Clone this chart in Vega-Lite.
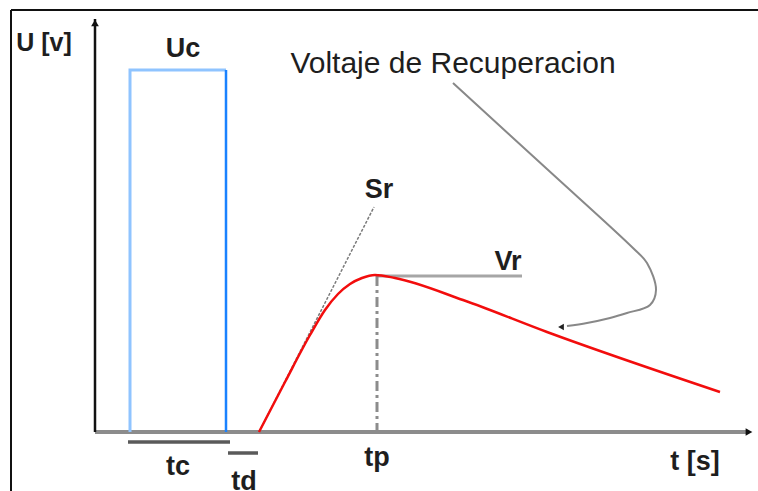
{
  "$schema": "https://vega.github.io/schema/vega-lite/v6.json",
  "width": 758,
  "height": 491,
  "autosize": {"type": "none"},
  "padding": 0,
  "background": "white",
  "config": {"view": {"stroke": null}, "text": {"font": "Liberation Sans"}},
  "datasets": {
    "frame": [
      {"side": "top", "k": 0, "t": -8.4, "U": 42.2},
      {"side": "top", "k": 1, "t": 66.3, "U": 42.2},
      {"side": "left", "k": 0, "t": -8.4, "U": 42.2},
      {"side": "left", "k": 1, "t": -8.4, "U": -5.9}
    ],
    "uAxis": [{"k": 0, "t": 0, "U": 0}, {"k": 1, "t": 0, "U": 41.3}],
    "tAxis": [{"k": 0, "t": 0, "U": 0}, {"k": 1, "t": 65.2, "U": 0}],
    "arrowUp": [{"t": 0, "U": 40.9}],
    "arrowRight": [{"t": 65.4, "U": 0}],
    "pulseLight": [
      {"k": 0, "t": 3.5, "U": 0},
      {"k": 1, "t": 3.5, "U": 36.2},
      {"k": 2, "t": 13.1, "U": 36.2}
    ],
    "pulseDark": [{"k": 0, "t": 13.1, "U": 36.2}, {"k": 1, "t": 13.1, "U": 0}],
    "intervals": [
      {"name": "tc", "k": 0, "t": 3.3, "U": -1.0},
      {"name": "tc", "k": 1, "t": 13.5, "U": -1.0},
      {"name": "td", "k": 0, "t": 13.3, "U": -2.1},
      {"name": "td", "k": 1, "t": 16.3, "U": -2.1}
    ],
    "tangent": [{"k": 0, "t": 16.4, "U": 0}, {"k": 1, "t": 27.9, "U": 22.5}],
    "peakLevel": [{"k": 0, "t": 28.2, "U": 15.6}, {"k": 1, "t": 42.7, "U": 15.6}],
    "peakTime": [{"k": 0, "t": 28.2, "U": 15.6}, {"k": 1, "t": 28.2, "U": 0}],
    "recovery": [
      {"t": 16.4, "U": 0},
      {"t": 19.0, "U": 5.0},
      {"t": 21.5, "U": 9.7},
      {"t": 23.0, "U": 12.2},
      {"t": 24.3, "U": 13.8},
      {"t": 25.5, "U": 14.8},
      {"t": 26.7, "U": 15.4},
      {"t": 28.0, "U": 15.7},
      {"t": 30.0, "U": 15.4},
      {"t": 36.8, "U": 13.2},
      {"t": 45.2, "U": 10.0},
      {"t": 62.5, "U": 4.0}
    ],
    "pointer": [
      {"k": 0, "t": 35.8, "U": 34.9},
      {"k": 1, "t": 45.2, "U": 26.3},
      {"k": 2, "t": 53.8, "U": 18.4},
      {"k": 3, "t": 55.2, "U": 16.9},
      {"k": 4, "t": 56.1, "U": 14.2},
      {"k": 5, "t": 55.5, "U": 12.7},
      {"k": 6, "t": 53.2, "U": 11.9},
      {"k": 7, "t": 51.5, "U": 11.4},
      {"k": 8, "t": 49.2, "U": 10.9},
      {"k": 9, "t": 47.2, "U": 10.6}
    ],
    "pointerHead": [{"t": 46.6, "U": 10.5}],
    "symbols": [
      {"label": "Uc", "t": 8.8, "U": 37.5},
      {"label": "Sr", "t": 28.4, "U": 23.4},
      {"label": "Vr", "t": 41.3, "U": 16.2},
      {"label": "tc", "t": 8.3, "U": -4.3},
      {"label": "td", "t": 14.9, "U": -5.75},
      {"label": "tp", "t": 28.2, "U": -3.4},
      {"label": "t [s]", "t": 60.0, "U": -3.8}
    ],
    "yTitle": [{"label": "U [v]", "t": -5.1, "U": 38.1}],
    "note": [{"label": "Voltaje de Recuperacion", "t": 35.8, "U": 35.9}]
  },
  "encoding": {
    "x": {"field": "t", "type": "quantitative", "axis": null,
          "scale": {"domain": [-9.5, 66.3], "nice": false, "zero": false}},
    "y": {"field": "U", "type": "quantitative", "axis": null,
          "scale": {"domain": [-5.9, 43.2], "nice": false, "zero": false}}
  },
  "layer": [
    {"data": {"name": "frame"},
     "mark": {"type": "line", "color": "#111111", "strokeWidth": 2},
     "encoding": {"detail": {"field": "side"}, "order": {"field": "k"}}},
    {"data": {"name": "tAxis"},
     "mark": {"type": "line", "color": "#8c8c8c", "strokeWidth": 4},
     "encoding": {"order": {"field": "k"}}},
    {"data": {"name": "uAxis"},
     "mark": {"type": "line", "color": "#111111", "strokeWidth": 2.5},
     "encoding": {"order": {"field": "k"}}},
    {"data": {"name": "arrowUp"},
     "mark": {"type": "point", "shape": "triangle-up", "filled": true, "color": "#111111", "size": 60, "opacity": 1}},
    {"data": {"name": "arrowRight"},
     "mark": {"type": "point", "shape": "triangle-right", "filled": true, "color": "#111111", "size": 60, "opacity": 1}},
    {"data": {"name": "pulseLight"},
     "mark": {"type": "line", "color": "#8fc4ff", "strokeWidth": 3},
     "encoding": {"order": {"field": "k"}}},
    {"data": {"name": "pulseDark"},
     "mark": {"type": "line", "color": "#1a82ff", "strokeWidth": 2.5},
     "encoding": {"order": {"field": "k"}}},
    {"data": {"name": "intervals"},
     "mark": {"type": "line", "color": "#5a5a5a", "strokeWidth": 3.5},
     "encoding": {"detail": {"field": "name"}, "order": {"field": "k"}}},
    {"data": {"name": "tangent"},
     "mark": {"type": "line", "color": "#7a7a7a", "strokeWidth": 1.5, "strokeDash": [3, 1.5]},
     "encoding": {"order": {"field": "k"}}},
    {"data": {"name": "peakLevel"},
     "mark": {"type": "line", "color": "#a6a6a6", "strokeWidth": 3},
     "encoding": {"order": {"field": "k"}}},
    {"data": {"name": "peakTime"},
     "mark": {"type": "line", "color": "#8c8c8c", "strokeWidth": 3, "strokeDash": [10, 4, 3, 4]},
     "encoding": {"order": {"field": "k"}}},
    {"data": {"name": "recovery"},
     "mark": {"type": "line", "color": "#f20d0d", "strokeWidth": 2.5, "interpolate": "monotone"},
     "encoding": {"order": {"field": "t"}}},
    {"data": {"name": "pointer"},
     "mark": {"type": "line", "color": "#888888", "strokeWidth": 2, "interpolate": "catmull-rom"},
     "encoding": {"order": {"field": "k"}}},
    {"data": {"name": "pointerHead"},
     "mark": {"type": "point", "shape": "triangle-left", "filled": true, "color": "#222222", "size": 45, "opacity": 1}},
    {"data": {"name": "symbols"},
     "mark": {"type": "text", "fontSize": 27, "fontWeight": "bold", "color": "#1e1e1e", "align": "center", "baseline": "alphabetic"},
     "encoding": {"text": {"field": "label"}}},
    {"data": {"name": "yTitle"},
     "mark": {"type": "text", "fontSize": 25, "fontWeight": "bold", "color": "#1e1e1e", "align": "center", "baseline": "alphabetic"},
     "encoding": {"text": {"field": "label"}}},
    {"data": {"name": "note"},
     "mark": {"type": "text", "fontSize": 30, "color": "#1e1e1e", "align": "center", "baseline": "alphabetic"},
     "encoding": {"text": {"field": "label"}}}
  ]
}
